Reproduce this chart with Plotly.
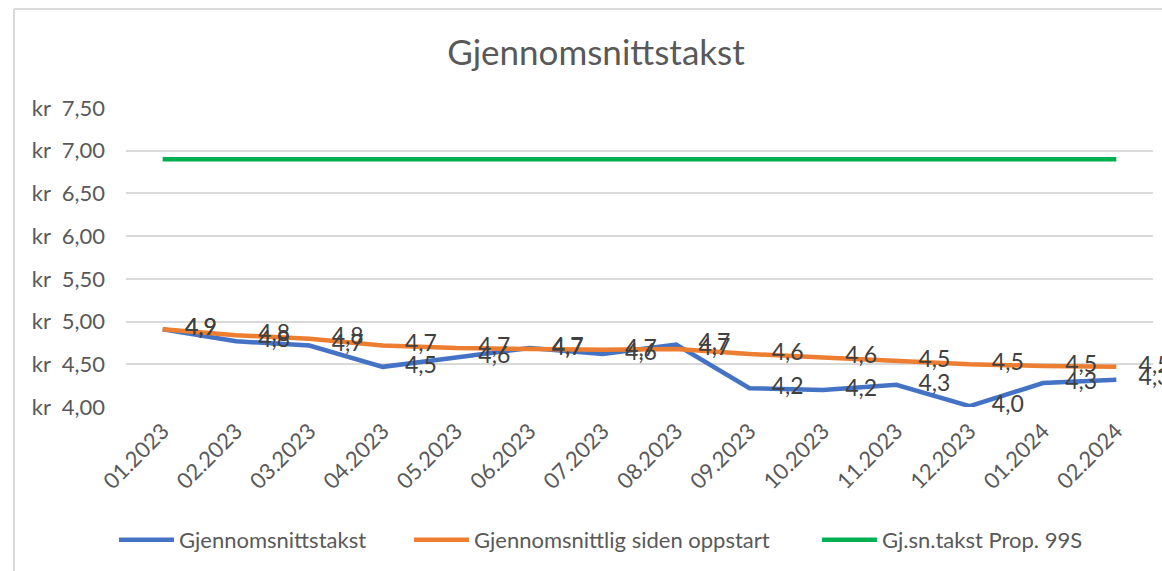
import plotly.graph_objects as go

months = ["01.2023", "02.2023", "03.2023", "04.2023", "05.2023", "06.2023", "07.2023",
          "08.2023", "09.2023", "10.2023", "11.2023", "12.2023", "01.2024", "02.2024"]
gjennomsnittstakst = [4.91, 4.77, 4.72, 4.47, 4.58, 4.69, 4.62, 4.73, 4.22, 4.20, 4.26, 4.01, 4.28, 4.32]
siden_oppstart = [4.91, 4.84, 4.80, 4.72, 4.69, 4.68, 4.67, 4.68, 4.62, 4.58, 4.54, 4.50, 4.48, 4.47]
prop_99s = [6.90] * len(months)

OFF = 0  # body margin removed via post_script
W, H = 1162, 571
# plot area in page pixels: left 126, right 1153, top 108, bottom 407
L = 126 - OFF
T = 108 - OFF
R = W - (1153 - OFF)
B = H - (407 - OFF)
pw, ph = W - L - R, H - T - B


def px_x(px):
    return (px - OFF - L) / pw


def px_y(py):
    return (H - B - (py - OFF)) / ph


FONT = "Lato"
TXT = "#595959"

fig = go.Figure()
label_font = dict(family=FONT, size=23, color="#404040")
series = [
    ("Gjennomsnittstakst", gjennomsnittstakst, "#4472C4", True, "legend", 120),
    ("Gjennomsnittlig siden oppstart", siden_oppstart, "#ED7D31", True, "legend2", 415),
    ("Gj.sn.takst Prop. 99S", prop_99s, "#00B050", False, "legend3", 823),
]
for name, vals, color, labels, lg, lx in series:
    fig.add_trace(go.Scatter(
        x=months, y=vals, name=name, mode="lines", legend=lg,
        line=dict(color=color, width=4.5),
        cliponaxis=False, hoverinfo="x+y",
    ))
for name, vals, color, labels, lg, lx in series:
    if not labels:
        continue
    fig.add_trace(go.Scatter(
        x=months, y=vals, name=name, mode="markers+text", showlegend=False,
        marker=dict(size=34, opacity=0, color=color),
        text=[f"{v:.1f}".replace(".", ",") for v in vals],
        textposition="middle right", textfont=label_font,
        cliponaxis=False, hoverinfo="skip",
    ))

legends = {}
for name, vals, color, labels, lg, lx in series:
    legends[lg] = dict(orientation="h", x=px_x(lx - 6), xanchor="left", y=px_y(540),
                       yanchor="middle", font=dict(family=FONT, size=22, color=TXT),
                       itemwidth=55, bgcolor="rgba(0,0,0,0)")

fig.update_layout(
    width=W, height=H,
    margin=dict(l=L, r=R, t=T, b=B, autoexpand=False),
    paper_bgcolor="white", plot_bgcolor="white",
    separators=", ",
    title=dict(text="Gjennomsnittstakst", x=(596 - OFF) / W, xanchor="center",
               y=1 - (53 - OFF) / H, yanchor="middle",
               font=dict(family=FONT, size=35, color=TXT)),
    font=dict(family=FONT, color=TXT),
    showlegend=True,
    xaxis=dict(type="category", range=[-0.5, len(months) - 0.5], tickangle=-45,
               tickfont=dict(family=FONT, size=22, color=TXT), showgrid=False,
               showline=False, zeroline=False, ticks="", ticklabelstandoff=6),
    yaxis=dict(range=[4.0, 7.5], dtick=0.5, tick0=4.0, tickformat=".2f",
               tickprefix="kr\u00a0\u00a0", tickfont=dict(family=FONT, size=22, color=TXT),
               showgrid=True, gridcolor="#D9D9D9", gridwidth=1.5, zeroline=False,
               showline=False, ticklabelstandoff=20),
    shapes=[
        dict(type="line", xref="paper", yref="paper", x0=px_x(14), x1=px_x(14),
             y0=px_y(9), y1=px_y(H + 20), line=dict(color="#D9D9D9", width=2)),
        dict(type="line", xref="paper", yref="paper", x0=px_x(14), x1=px_x(W + 20),
             y0=px_y(9), y1=px_y(9), line=dict(color="#D9D9D9", width=2)),
    ],
    **legends,
)

fig.write_html("out.html", config={"displayModeBar": False},
               post_script="document.body.style.margin='0px';document.body.style.overflow='hidden';")
